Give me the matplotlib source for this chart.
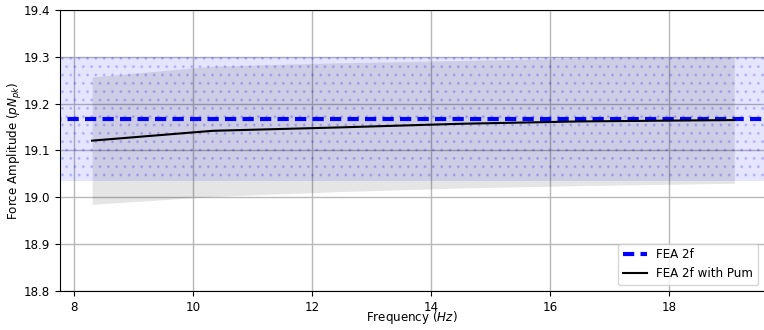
import numpy as np
import matplotlib
matplotlib.use("Agg")
import matplotlib.pyplot as plt

# FEA reference value and its band
fea_x = [7.0, 20.0]
fea_mean = 19.167
fea_low = 19.035
fea_high = 19.300

# FEA 2f with Pum (per frequency)
freq = [8.3, 10.33, 12.4, 14.5, 16.5, 19.1]
force = [19.121, 19.142, 19.149, 19.157, 19.162, 19.165]
force_low = [18.985, 19.002, 19.012, 19.020, 19.025, 19.030]
force_high = [19.257, 19.280, 19.287, 19.292, 19.297, 19.300]

plt.rcParams['font.size'] = 8.6
plt.rcParams['hatch.color'] = (0, 0, 1, 0.15)

fig = plt.figure(figsize=(7.64, 3.3), dpi=100)
ax = fig.add_axes([0.0785, 0.118, 0.9215, 0.852])

ax.fill_between(fea_x, [fea_low] * 2, [fea_high] * 2, facecolor=(0, 0, 1, 0.1),
                hatch='..', edgecolor=(0, 0, 1, 0.15), linewidth=0)
ax.fill_between(freq, force_low, force_high, color='k', alpha=0.1, linewidth=0)
ax.plot(fea_x, [fea_mean] * 2, color='b', lw=3, dashes=(2.7, 1.5), label='FEA 2f')
ax.plot(freq, force, color='k', lw=1.5, label='FEA 2f with Pum')

ax.set_xlim(7.76, 19.6)
ax.set_ylim(18.8, 19.4)
ax.set_xticks([8, 10, 12, 14, 16, 18])
ax.set_yticks(np.arange(18.8, 19.41, 0.1))
ax.set_yticklabels(['18.8', '18.9', '19.0', '19.1', '19.2', '19.3', '19.4'])
ax.grid(True, color='#b8b8b8', lw=1)
ax.set_axisbelow(True)
ax.spines['right'].set_visible(False)

ax.set_xlabel('Frequency ($Hz$)')
ax.set_ylabel('Force Amplitude ($pN_{pk}$)')
ax.xaxis.set_label_coords(0.4995, -0.064)
ax.yaxis.set_label_coords(-0.051, 0.5)
ax.legend(loc='lower right')

fig.savefig('out.png', dpi=100)
